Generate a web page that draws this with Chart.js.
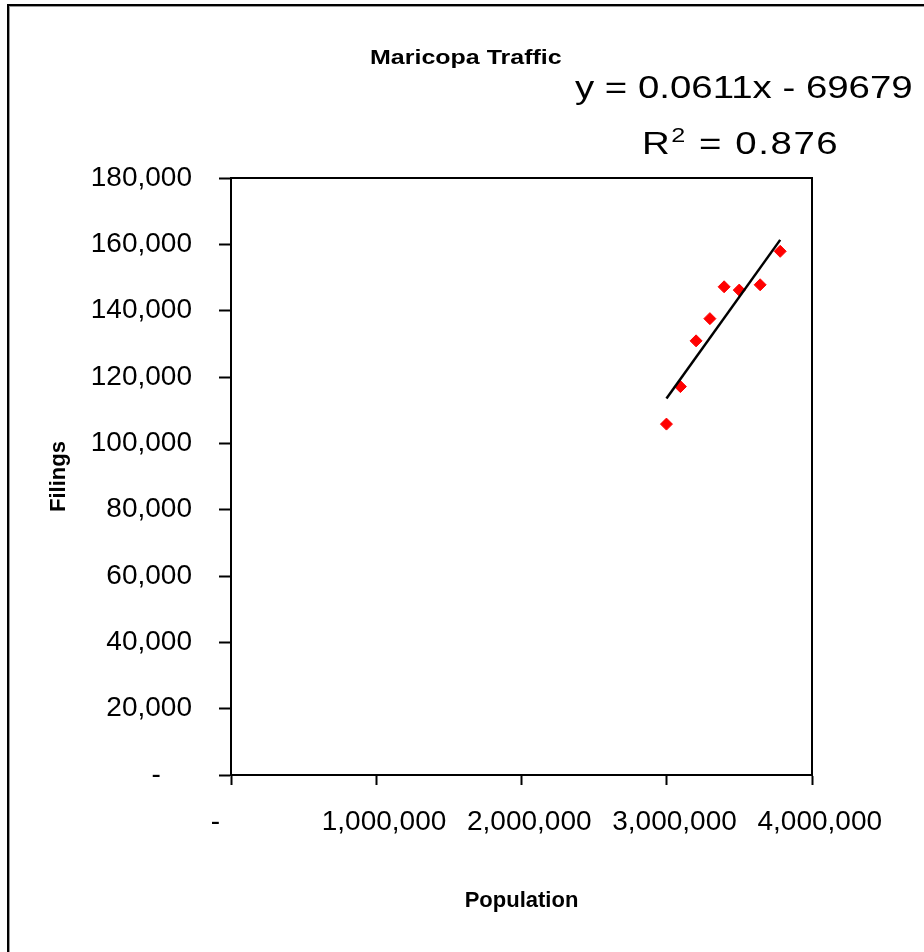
<!DOCTYPE html>
<html>
<head>
<meta charset="utf-8">
<script src="https://cdn.jsdelivr.net/npm/chart.js@4.4.1/dist/chart.umd.min.js"></script>
<style>
  html, body { margin: 0; padding: 0; background: #fff; }
  #wrap { position: relative; width: 924px; height: 952px; overflow: hidden; }
  #frame {
    position: absolute; left: 7px; top: 4px; right: -20px; bottom: -20px;
    border: 2px solid #000; box-shadow: inset 1px 1px 0 #999;
  }
  #chart { position: absolute; left: 0; top: 0; }
  .txt { position: absolute; font-family: "Liberation Sans", Arial, sans-serif; color: #000; white-space: nowrap; line-height: 1; transform-origin: 0 0; }
  #title { left: 370px; top: 46px; font-size: 21px; font-weight: bold; transform: scaleX(1.19); }
  #eq { left: 575px; top: 71px; font-size: 32px; transform: scaleX(1.2); }
  #r2 { left: 642px; top: 127px; font-size: 32px; letter-spacing: 1.3px; transform: scaleX(1.2); }
  #r2 sup { font-size: 21px; vertical-align: 12px; line-height: 0; }
</style>
</head>
<body>
<div id="wrap">
  <div id="frame"></div>
  <canvas id="chart" width="924" height="952"></canvas>
  <div class="txt" id="title">Maricopa Traffic</div>
  <div class="txt" id="eq">y = 0.0611x - 69679</div>
  <div class="txt" id="r2">R<sup>2</sup> = 0.876</div>
</div>
<script>
// data
const population = [2998000, 3094000, 3202000, 3297000, 3395000, 3499000, 3643000, 3781000];
const filings = [105800, 117100, 130900, 137600, 147200, 146200, 147800, 157900];

// linear trendline from the chart's label
const trendSlope = 0.0611;
const trendIntercept = -69679;

const xTicks = [0, 1000000, 2000000, 3000000, 4000000];
const yTicks = [0, 20000, 40000, 60000, 80000, 100000, 120000, 140000, 160000, 180000];

const pad = "\u00a0";
const points = population.map((x, i) => ({ x: x, y: filings[i] }));
const xMin = Math.min(...population);
const xMax = Math.max(...population);
const trend = [
  { x: xMin, y: trendSlope * xMin + trendIntercept },
  { x: xMax, y: trendSlope * xMax + trendIntercept },
];

// box round the plot area
const plotBox = {
  id: "plotBox",
  beforeDatasetsDraw(chart) {
    const a = chart.chartArea;
    const ctx = chart.ctx;
    ctx.save();
    ctx.strokeStyle = "#000";
    ctx.lineWidth = 2;
    ctx.strokeRect(a.left, a.top, a.right - a.left, a.bottom - a.top);
    ctx.restore();
  },
};

const tickFont = { family: "'Liberation Sans', Arial, sans-serif", size: 28 };
const titleFont = { family: "'Liberation Sans', Arial, sans-serif", size: 22, weight: "bold" };

new Chart(document.getElementById("chart").getContext("2d"), {
  type: "scatter",
  data: {
    datasets: [
      {
        label: "Trend",
        type: "line",
        data: trend,
        borderColor: "#000",
        borderWidth: 2.5,
        pointRadius: 0,
        fill: false,
        order: 0,
      },
      {
        label: "Filings",
        data: points,
        pointStyle: "rectRot",
        pointRadius: 6,
        backgroundColor: "#ff0000",
        borderColor: "#ff0000",
        borderWidth: 1,
        order: 1,
      },
    ],
  },
  options: {
    responsive: false,
    animation: false,
    layout: { padding: { left: 0, top: 178, right: 112, bottom: 0 } },
    plugins: {
      legend: { display: false },
      tooltip: { enabled: false },
    },
    scales: {
      x: {
        type: "linear",
        min: 0,
        max: 4000000,
        afterFit: (s) => { s.height = 177; },
        afterBuildTicks: (s) => { s.ticks = xTicks.map((v) => ({ value: v })); },
        grid: { drawOnChartArea: false, drawTicks: true, tickLength: 10, tickColor: "#000", tickWidth: 2 },
        border: { display: true, color: "#000", width: 2 },
        ticks: {
          color: "#000",
          font: tickFont,
          padding: 20,
          maxRotation: 0,
          callback: (v) => (v === 0 ? "-" + pad.repeat(4) : pad + pad + v.toLocaleString("en-US")),
        },
        title: { display: true, text: "Population", color: "#000", font: titleFont, padding: { top: 0, bottom: 38 } },
      },
      y: {
        min: 0,
        max: 180000,
        afterFit: (s) => { s.width = 231; },
        afterBuildTicks: (s) => { s.ticks = yTicks.map((v) => ({ value: v })); },
        grid: { drawOnChartArea: false, drawTicks: true, tickLength: 12, tickColor: "#000", tickWidth: 2 },
        border: { display: true, color: "#000", width: 2 },
        ticks: {
          color: "#000",
          font: tickFont,
          padding: 27,
          callback: (v) => (v === 0 ? "-" + pad.repeat(4) : v.toLocaleString("en-US")),
        },
        title: { display: true, text: "Filings", color: "#000", font: titleFont, padding: { top: 46, bottom: 0 } },
      },
    },
  },
  plugins: [plotBox],
});
</script>
</body>
</html>
